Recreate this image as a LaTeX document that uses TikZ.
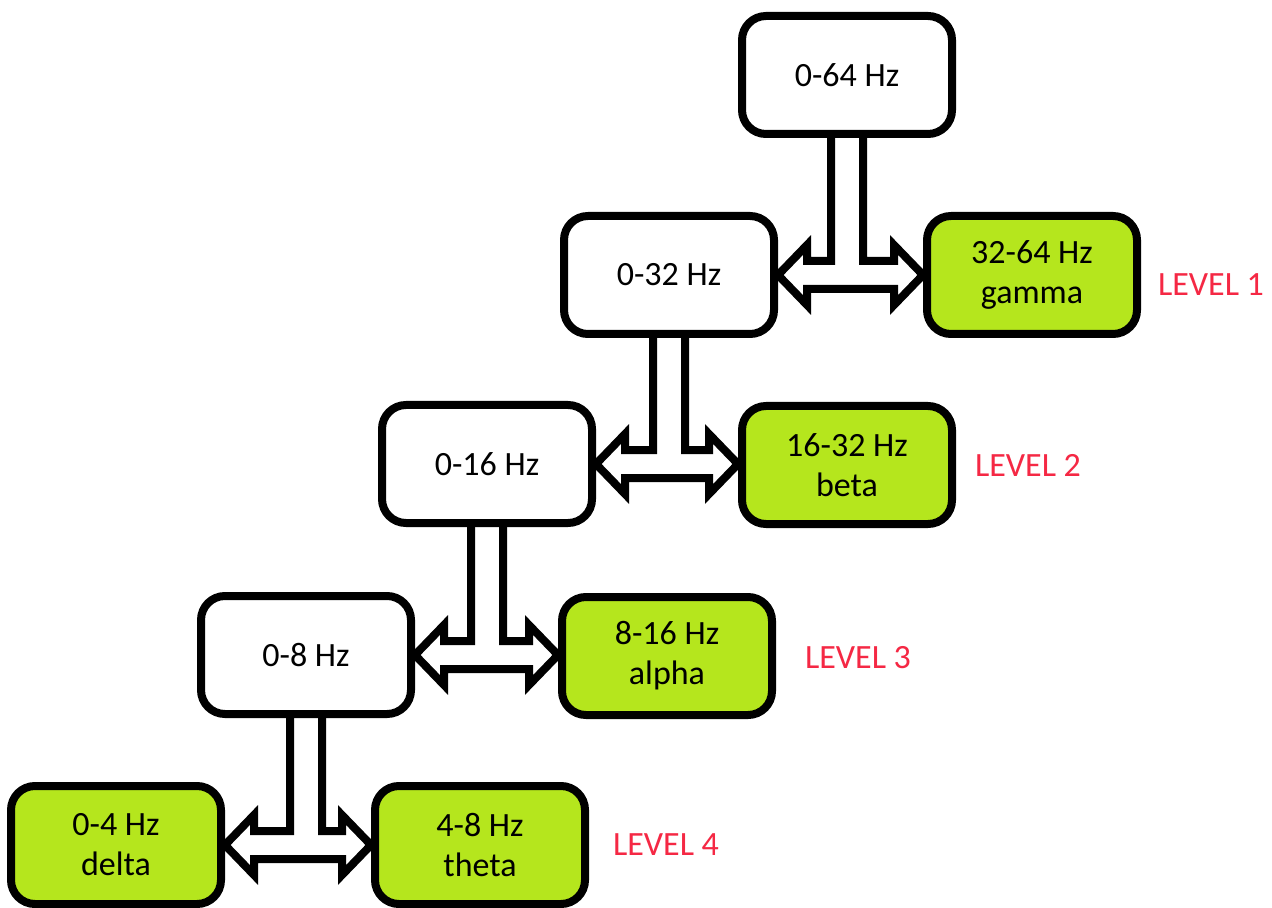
\documentclass[tikz,border=0pt]{standalone}
\usepackage{fontspec}
\setmainfont{Carlito}
\usetikzlibrary{calc,backgrounds}
\definecolor{lime}{RGB}{181,230,29}
\definecolor{lvlred}{RGB}{245,40,68}
\newcommand\tarrow[3]{%
  \draw[tarr] let \p1=(#1.south), \p2=(#2.east), \p3=(#3.west) in
    (\x1-8pt,\y1) -- (\x1-8pt,\y2+7pt) -- (\x2+14.5pt,\y2+7pt) -- (\x2+14.5pt,\y2+15pt)
    -- (\x2,\y2) -- (\x2+14.5pt,\y2-15pt) -- (\x2+14.5pt,\y2-7pt)
    -- (\x3-14.5pt,\y2-7pt) -- (\x3-14.5pt,\y2-15pt) -- (\x3,\y2)
    -- (\x3-14.5pt,\y2+15pt) -- (\x3-14.5pt,\y2+7pt) -- (\x1+8pt,\y2+7pt) -- (\x1+8pt,\y1);}
\tikzset{
  box/.style={draw=black, line width=4pt, rounded corners=12pt, minimum width=105pt,
    minimum height=59pt, inner sep=0pt, align=center, font=\fontsize{17}{20}\selectfont},
  wbox/.style={box, fill=white},
  gbox/.style={box, fill=lime},
  tarr/.style={draw=black, fill=white, line width=4pt, line join=miter},
  lvl/.style={text=lvlred, font=\fontsize{17}{20}\selectfont, inner sep=0pt}
}
\begin{document}
\begin{tikzpicture}[x=0.5pt,y=-0.5pt]
\useasboundingbox (0,0) rectangle (1272,908);
\node[wbox] (a) at (847,75) {0-64 Hz};
\node[wbox] (b) at (669,275) {0-32 Hz};
\node[gbox] (g1) at (1032,275) {32-64 Hz\\gamma};
\node[wbox] (c) at (487,464) {0-16 Hz};
\node[gbox] (g2) at (847,465) {16-32 Hz\\beta};
\node[wbox] (d) at (306,655) {0-8 Hz};
\node[gbox] (g3) at (667,656) {8-16 Hz\\alpha};
\node[gbox] (g4) at (116,845) {0-4 Hz\\delta};
\node[gbox] (g5) at (480,845) {4-8 Hz\\theta};
\node[lvl] (l1) at (1211,285) {LEVEL 1};
\node[lvl] (l2) at (1028,465) {LEVEL 2};
\node[lvl] (l3) at (858,658) {LEVEL 3};
\node[lvl] (l4) at (666,845) {LEVEL 4};
\begin{scope}[on background layer]
\fill[white] (0,0) rectangle (1272,908);
\tarrow{a}{b}{g1}
\tarrow{b}{c}{g2}
\tarrow{c}{d}{g3}
\tarrow{d}{g4}{g5}
\end{scope}
\end{tikzpicture}
\end{document}
